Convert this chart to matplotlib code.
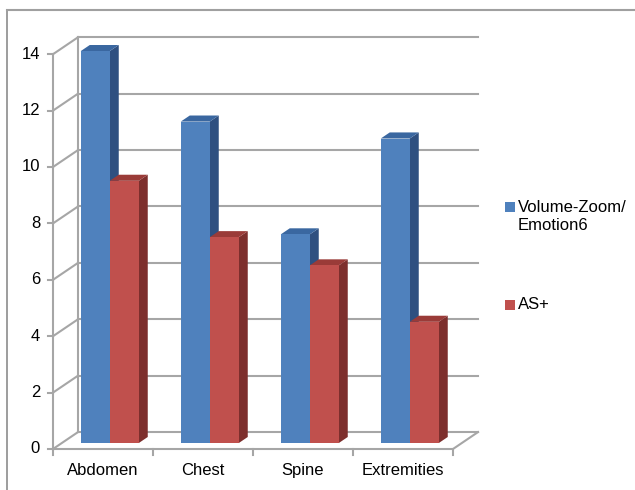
import matplotlib
matplotlib.use('Agg')
import matplotlib.pyplot as plt
from matplotlib.patches import Polygon

categories = ['Abdomen', 'Chest', 'Spine', 'Extremities']
volume_zoom = [13.9, 11.4, 7.4, 10.8]
as_plus = [9.3, 7.3, 6.3, 4.3]
series_names = ['Volume-Zoom/\nEmotion6', 'AS+']
y_ticks = [0, 2, 4, 6, 8, 10, 12, 14]

# fake 3d: depth offset of the back wall, in data units
DX, DY = 0.25, 0.6
# bars sit between these depth fractions
D0, D1 = 0.35, 0.71
BW = 0.29

front = ['#4F81BD', '#C0504D']
side = ['#2F5080', '#7D2F2D']
top = ['#3A67A0', '#9A3B38']
grid_c = '#a6a6a6'

plt.rcParams['font.family'] = ['Liberation Sans', 'DejaVu Sans']
FS = 12

fig = plt.figure(figsize=(6.35, 4.9), dpi=100)
ax = fig.add_axes([0, 0, 1, 1])
ax.set_xlim(-0.53, 5.82)
ax.set_ylim(-1.454, 15.922)
ax.axis('off')

n = len(categories)

# back wall gridlines, side wall diagonals and front axis ticks
for t in y_ticks:
    ax.plot([DX, n + DX], [t + DY, t + DY], color=grid_c, lw=1.5, zorder=1)
    ax.plot([0, DX], [t, t + DY], color=grid_c, lw=1.5, zorder=1)
    ax.plot([-0.05, 0], [t, t], color=grid_c, lw=1.5, zorder=1)
    ax.text(-0.13, t, str(t), ha='right', va='center', fontsize=FS)
ax.plot([DX, DX], [DY, y_ticks[-1] + DY], color=grid_c, lw=1.5, zorder=1)
ax.plot([0, 0], [0, y_ticks[-1]], color=grid_c, lw=1.5, zorder=1)

# floor
ax.plot([0, n, n + DX], [0, 0, DY], color=grid_c, lw=1.5, zorder=1)
for i in range(n + 1):
    ax.plot([i, i], [0, -0.2], color=grid_c, lw=1.5, zorder=1)
for i, c in enumerate(categories):
    ax.text(i + 0.5, -0.75, c, ha='center', va='center', fontsize=FS)

# bars: side face, top face, then front face
for i in range(n):
    for s, vals in enumerate([volume_zoom, as_plus]):
        v = vals[i]
        x0 = i + 0.48 - BW + s * BW + D0 * DX
        y0 = D0 * DY
        x1 = x0 + BW
        ddx = (D1 - D0) * DX
        ddy = (D1 - D0) * DY
        z = 3 + s
        ax.add_patch(Polygon([(x1, y0), (x1 + ddx, y0 + ddy), (x1 + ddx, y0 + v + ddy), (x1, y0 + v)],
                             closed=True, fc=side[s], ec='none', zorder=z))
        ax.add_patch(Polygon([(x0, y0 + v), (x1, y0 + v), (x1 + ddx, y0 + v + ddy), (x0 + ddx, y0 + v + ddy)],
                             closed=True, fc=top[s], ec='none', zorder=z))
        ax.add_patch(Polygon([(x0, y0), (x1, y0), (x1, y0 + v), (x0, y0 + v)],
                             closed=True, fc=front[s], ec='none', zorder=z))

# legend
ax.add_patch(Polygon([(4.52, 8.40), (4.62, 8.40), (4.62, 8.76), (4.52, 8.76)], closed=True,
                     fc=front[0], ec='none'))
ax.text(4.65, 8.58, series_names[0].split('\n')[0], ha='left', va='center', fontsize=FS)
ax.text(4.65, 7.94, series_names[0].split('\n')[1], ha='left', va='center', fontsize=FS)
ax.add_patch(Polygon([(4.52, 4.93), (4.62, 4.93), (4.62, 5.29), (4.52, 5.29)], closed=True,
                     fc=front[1], ec='none'))
ax.text(4.65, 5.11, series_names[1], ha='left', va='center', fontsize=FS)

# chart frame
fig.add_artist(plt.Line2D([7 / 635, 7 / 635], [0, 1 - 10 / 490], color='#8c8c8c', lw=1.2,
                          transform=fig.transFigure))
fig.add_artist(plt.Line2D([7 / 635, 1], [1 - 10 / 490, 1 - 10 / 490], color='#a0a0a0', lw=1.5,
                          transform=fig.transFigure))

fig.savefig('out.png', dpi=100)
